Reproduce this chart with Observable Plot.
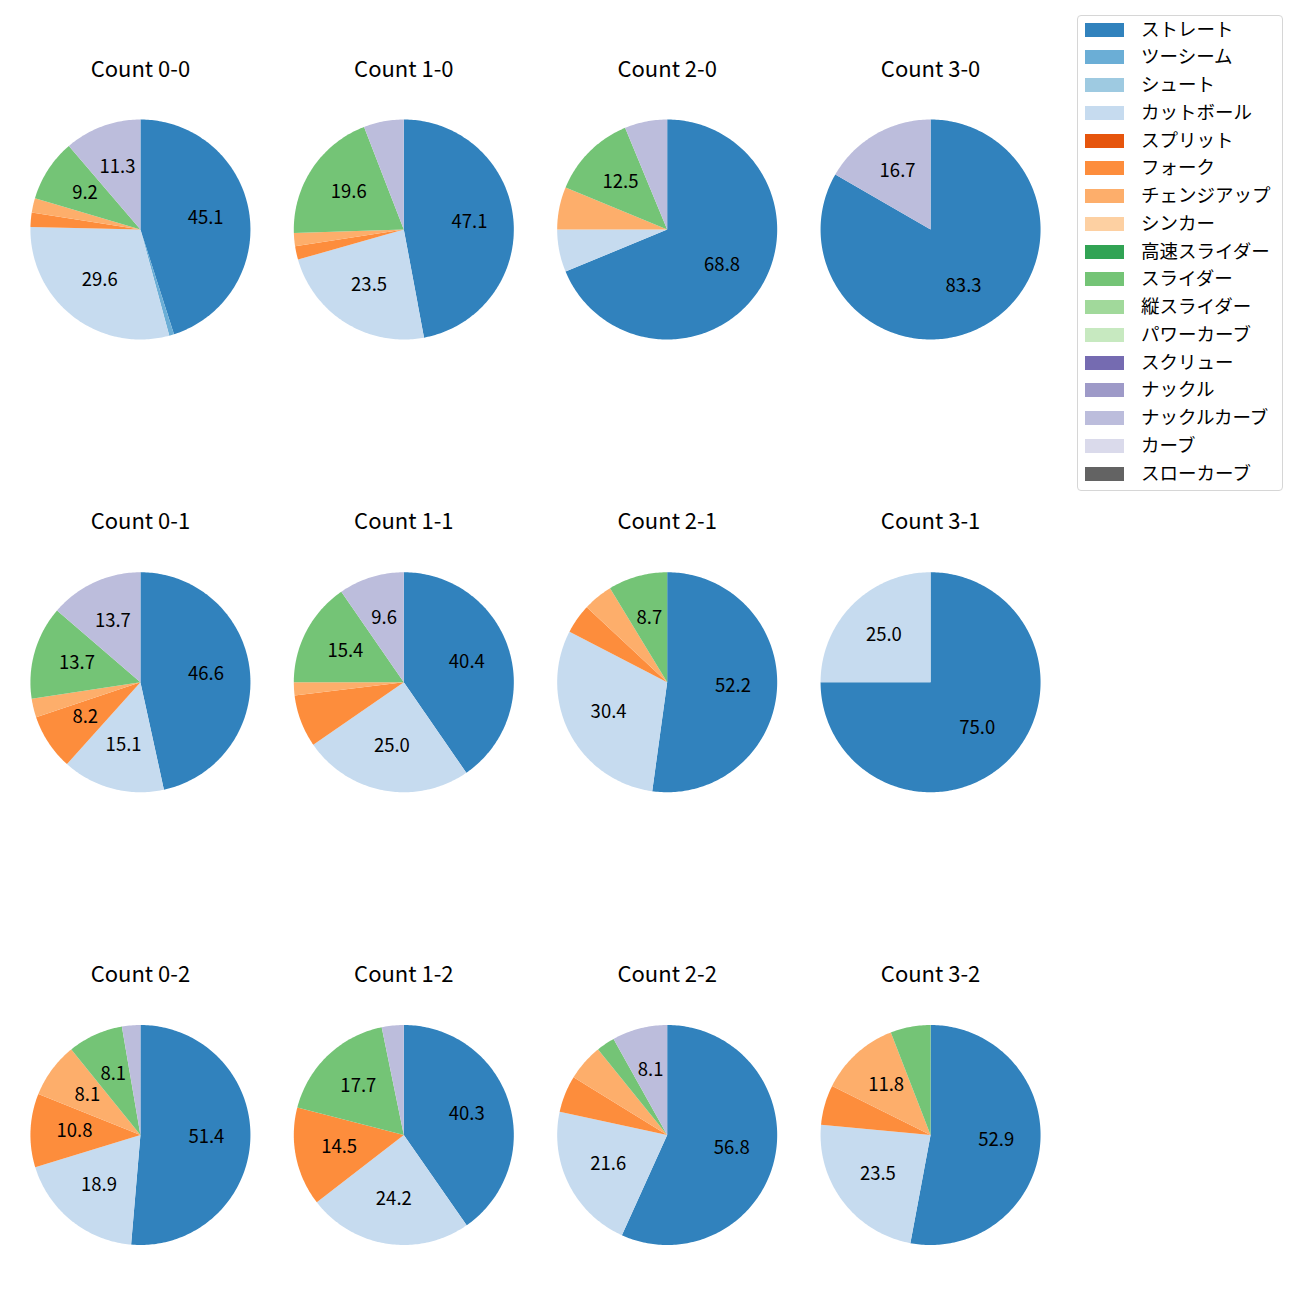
<!DOCTYPE html>
<html>
<head>
<meta charset="utf-8">
<script src="https://cdn.jsdelivr.net/npm/d3@7"></script>
<script src="https://cdn.jsdelivr.net/npm/@observablehq/plot@0.6"></script>
<style>
  body { margin: 0; background: #fff; font-family: "Noto Sans CJK JP", "Noto Sans", sans-serif; }
  #wrap { position: relative; width: 1300px; height: 1300px; }
  #chart { position: absolute; left: 0; top: 0; }
  #legend { position: absolute; left: 1077px; top: 15px; width: 206px; height: 476px; box-sizing: border-box;
            border: 1px solid #d6d6d6; border-radius: 4px; background: #fff; }
  .sw { position: absolute; left: 7px; width: 39px; height: 14px; }
  .lb { position: absolute; left: 63px; font-size: 18.5px; line-height: 20px; color: #000; white-space: nowrap; }
</style>
</head>
<body>
<div id="wrap"><div id="chart"></div><div id="legend"></div></div>
<script>
// ---- data ----
const pitchTypes = ["ストレート","ツーシーム","シュート","カットボール","スプリット","フォーク","チェンジアップ","シンカー","高速スライダー","スライダー","縦スライダー","パワーカーブ","スクリュー","ナックル","ナックルカーブ","カーブ","スローカーブ"];
const pitchColors = ["#3182bd","#6baed6","#9ecae1","#c6dbef","#e6550d","#fd8d3c","#fdae6b","#fdd0a2","#31a354","#74c476","#a1d99b","#c7e9c0","#756bb1","#9e9ac8","#bcbddc","#dadaeb","#636363"];
const balls = [0, 1, 2, 3];
const strikes = [0, 1, 2];
const countLabels = ["0-0","1-0","2-0","3-0","0-1","1-1","2-1","3-1","0-2","1-2","2-2","3-2"];
// number of pitches per type (pitchTypes order) for each count
const c00 = [64,1,0,42,0,3,3,0,0,13,0,0,0,0,16,0,0];
const c10 = [24,0,0,12,0,1,1,0,0,10,0,0,0,0,3,0,0];
const c20 = [11,0,0,1,0,0,1,0,0,2,0,0,0,0,1,0,0];
const c30 = [5,0,0,0,0,0,0,0,0,0,0,0,0,0,1,0,0];
const c01 = [34,0,0,11,0,6,2,0,0,10,0,0,0,0,10,0,0];
const c11 = [21,0,0,13,0,4,1,0,0,8,0,0,0,0,5,0,0];
const c21 = [12,0,0,7,0,1,1,0,0,2,0,0,0,0,0,0,0];
const c31 = [3,0,0,1,0,0,0,0,0,0,0,0,0,0,0,0,0];
const c02 = [19,0,0,7,0,4,3,0,0,3,0,0,0,0,1,0,0];
const c12 = [25,0,0,15,0,9,0,0,0,11,0,0,0,0,2,0,0];
const c22 = [21,0,0,8,0,2,2,0,0,1,0,0,0,0,3,0,0];
const c32 = [9,0,0,4,0,1,2,0,0,1,0,0,0,0,0,0,0];
const countValues = [c00,c10,c20,c30,c01,c11,c21,c31,c02,c12,c22,c32];
const labelMin = 8; // percentages below this are not labelled

// ---- build slices ----
const slicePts = [], labels = [], titles = [];
countLabels.forEach((lab, i) => {
  const [b, s] = lab.split("-").map(Number);
  const vals = countValues[i];
  const total = d3.sum(vals);
  titles.push({b, s, title: "Count " + lab});
  let acc = 0;
  vals.forEach((v, k) => {
    if (v <= 0) return;
    const a0 = acc / total, a1 = (acc + v) / total;
    acc += v;
    const key = lab + "|" + k;
    const type = pitchTypes[k];
    slicePts.push({b, s, key, type, px: 0, py: 0});
    const n = Math.max(2, Math.ceil((a1 - a0) * 360)) ;
    for (let j = 0; j <= n; j++) {
      const t = 2 * Math.PI * (a0 + (a1 - a0) * j / n);
      slicePts.push({b, s, key, type, px: Math.sin(t), py: Math.cos(t)});
    }
    const pct = 100 * v / total;
    if (pct >= labelMin) {
      const tm = 2 * Math.PI * (a0 + a1) / 2;
      labels.push({b, s, lx: 0.6 * Math.sin(tm), ly: 0.6 * Math.cos(tm), text: pct.toFixed(1)});
    }
  });
});

// ---- layout ----
const W = 1070, H = 1300;
const fxPadOuter = 0.0313;
const fyPadInner = 0.34843, fyPadOuter = 0.10988;
const bandW = W / (4 + 2 * fxPadOuter);
const stepH = H / (3 - fyPadInner + 2 * fyPadOuter);
const bandH = stepH * (1 - fyPadInner);
const R = 110;              // pie radius in px
const centerFromTop = 179.25;
const xHalf = bandW / 2 / R;

const chart = Plot.plot({
  width: W, height: H, margin: 0,
  style: {fontFamily: '"Noto Sans CJK JP", "Noto Sans", sans-serif', background: "transparent", overflow: "visible"},
  x: {domain: [-xHalf, xHalf], axis: null},
  y: {domain: [-(bandH - centerFromTop) / R, centerFromTop / R], axis: null},
  fx: {domain: balls, axis: null, paddingInner: 0, paddingOuter: fxPadOuter, round: false},
  fy: {domain: strikes, axis: null, paddingInner: fyPadInner, paddingOuter: fyPadOuter, round: false},
  color: {domain: pitchTypes, range: pitchColors},
  marks: [
    Plot.line(slicePts, {x: "px", y: "py", z: "key", fill: "type", stroke: "none", fx: "b", fy: "s"}),
    Plot.text(labels, {x: "lx", y: "ly", text: "text", fx: "b", fy: "s", fontSize: 18.5, dy: -1, fill: "#000"}),
    Plot.text(titles, {text: "title", fx: "b", fy: "s", frameAnchor: "top", lineAnchor: "middle", dy: 69 - (stepH * fyPadOuter + (H - stepH * (3 - fyPadInner + 2 * fyPadOuter)) / 2), fontSize: 22, fill: "#000"})
  ]
});
document.getElementById("chart").appendChild(chart);

// ---- legend ----
const leg = document.getElementById("legend");
pitchTypes.forEach((t, i) => {
  const cy = 13.5 + 27.75 * i;
  const sw = document.createElement("div");
  sw.className = "sw"; sw.style.top = (cy - 7) + "px"; sw.style.background = pitchColors[i];
  const lb = document.createElement("div");
  lb.className = "lb"; lb.style.top = (cy - 12) + "px"; lb.textContent = t;
  leg.appendChild(sw); leg.appendChild(lb);
});
</script>
</body>
</html>
